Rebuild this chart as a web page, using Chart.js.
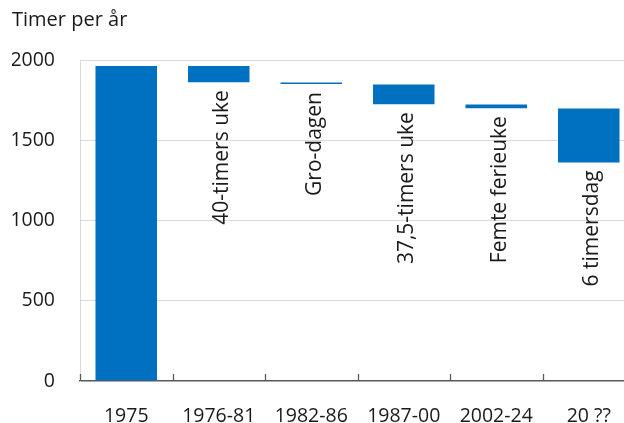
<!DOCTYPE html>
<html>
<head>
<meta charset="utf-8">
<script src="https://cdn.jsdelivr.net/npm/chart.js@4/dist/chart.umd.min.js"></script>
<style>
html, body { margin: 0; padding: 0; overflow: hidden; background: #ffffff; width: 624px; height: 423px; }
canvas { display: block; }
</style>
</head>
<body>
<canvas id="c" width="635" height="423"></canvas>
<script>
// ---- data ----
const categories = ['1975', '1976-81', '1982-86', '1987-00', '2002-24', '20 ??'];
const barStart   = [0,    1962, 1860, 1848, 1723, 1698];
const barEnd     = [1962, 1862, 1850, 1725, 1700, 1362];
const barNotes   = ['', '40-timers uke', 'Gro-dagen', '37,5-timers uke', 'Femte ferieuke', '6 timersdag'];
const yTicks     = [0, 500, 1000, 1500, 2000];
const yTitle     = 'Timer per år';

const FONT = '"Open Sans", "Noto Sans", sans-serif';
const TEXT = '#1a1a1a';

const floatingData = categories.map((c, i) => [barStart[i], barEnd[i]]);

const axisTicksPlugin = {
  id: 'axisTicks',
  afterDatasetsDraw(chart) {
    const x = chart.scales.x;
    const ctx = chart.ctx;
    const bottom = chart.chartArea.bottom;
    ctx.save();
    ctx.strokeStyle = '#595959';
    ctx.lineWidth = 1.3;
    for (let i = 0; i <= categories.length; i++) {
      const px = Math.round(x.getPixelForValue(i - 0.5)) + 0.5;
      ctx.beginPath();
      ctx.moveTo(px, bottom);
      ctx.lineTo(px, bottom - 7);
      ctx.stroke();
    }
    ctx.restore();
  }
};

const notesPlugin = {
  id: 'notes',
  afterDatasetsDraw(chart) {
    const meta = chart.getDatasetMeta(0);
    const ctx = chart.ctx;
    ctx.save();
    ctx.fillStyle = TEXT;
    ctx.font = '21px ' + FONT;
    ctx.textAlign = 'right';
    ctx.textBaseline = 'alphabetic';
    meta.data.forEach((el, i) => {
      const txt = barNotes[i];
      if (!txt) return;
      const props = el.getProps(['x', 'y', 'base'], true);
      const low = Math.max(props.y, props.base);
      ctx.save();
      ctx.translate(props.x + 9.5, low + 8);
      ctx.rotate(-Math.PI / 2);
      ctx.fillText(txt, 0, 0);
      ctx.restore();
    });
    ctx.restore();
  }
};

new Chart(document.getElementById('c'), {
  type: 'bar',
  data: {
    labels: categories,
    datasets: [{
      data: floatingData,
      backgroundColor: '#0070c0',
      borderWidth: 0,
      categoryPercentage: 1,
      barPercentage: 0.665
    }]
  },
  options: {
    responsive: false,
    animation: false,
    devicePixelRatio: 1,
    layout: { padding: { left: 12, right: 0, top: 0, bottom: 0 } },
    plugins: {
      legend: { display: false },
      tooltip: { enabled: false },
      title: {
        display: true,
        text: yTitle,
        align: 'start',
        color: TEXT,
        font: { family: FONT, size: 20, weight: 'normal', lineHeight: 1.2 },
        padding: { top: 8, bottom: 28 }
      }
    },
    scales: {
      x: {
        grid: { display: true, drawOnChartArea: false, drawTicks: false, offset: true },
        border: { display: true, color: '#595959', width: 1.5 },
        ticks: { color: TEXT, font: { family: FONT, size: 19.5 }, padding: 24, maxRotation: 0, autoSkip: false },
        afterFit(s) { s.height = 42; }
      },
      y: {
        min: 0,
        max: 2000,
        afterBuildTicks(s) { s.ticks = yTicks.map(v => ({ value: v })); },
        grid: {
          drawTicks: false,
          color: ctx => (ctx.tick && ctx.tick.value === 0) ? 'rgba(0,0,0,0)' : '#d9d9d9',
          lineWidth: 1
        },
        border: { display: true, color: '#d9d9d9', width: 1 },
        ticks: { color: TEXT, font: { family: FONT, size: 19.5 }, padding: 25, callback: v => String(v) },
        afterFit(s) { s.width = 68; }
      }
    }
  },
  plugins: [axisTicksPlugin, notesPlugin]
});
</script>
</body>
</html>
